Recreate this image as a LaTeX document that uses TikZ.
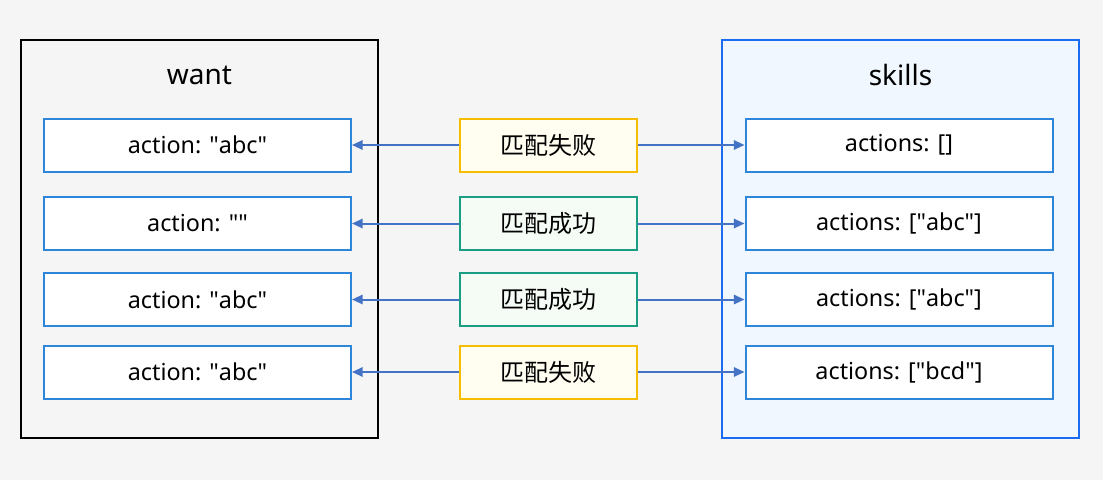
\documentclass[tikz,border=0pt]{standalone}
\usepackage{fontspec}
\setmainfont{Noto Sans}
\newfontfamily\cjk{Noto Sans CJK SC}
\usetikzlibrary{arrows.meta,positioning}
\definecolor{bgcol}{HTML}{F5F5F5}
\definecolor{skillfill}{HTML}{F0F7FE}
\definecolor{skillline}{HTML}{1A6CF0}
\definecolor{itemline}{HTML}{2D86D9}
\definecolor{failline}{HTML}{F5BC00}
\definecolor{failfill}{HTML}{FFFEF0}
\definecolor{okline}{HTML}{1A9E83}
\definecolor{okfill}{HTML}{F5FCF6}
\definecolor{arrowcol}{HTML}{4472C4}
\begin{document}
\begin{tikzpicture}[x=0.75pt,y=-0.75pt,
  outerbox/.style={draw,line width=1.5pt,minimum width=357*0.75pt,minimum height=398*0.75pt},
  itembox/.style={draw=itemline,fill=white,line width=1.5pt,minimum width=307*0.75pt,minimum height=53*0.75pt,font=\fontsize{17.5}{21}\selectfont},
  failbox/.style={draw=failline,fill=failfill,line width=1.5pt,minimum width=177*0.75pt,minimum height=53*0.75pt,font=\cjk\fontsize{18}{22}\selectfont},
  okbox/.style={failbox,draw=okline,fill=okfill},
  link/.style={draw=arrowcol,line width=1.5pt,-{Triangle[length=8pt,width=7pt]}}]
% background
\fill[bgcol] (0,0) rectangle (1103,480);
\useasboundingbox (0,0) rectangle (1103,480);
% want / skills
\node[outerbox,draw=black,fill=bgcol] (want) at (199.5,239) {};
\node[outerbox,draw=skillline,fill=skillfill] (skills) at (900.5,239) {};
\node[font=\fontsize{21}{25}\selectfont] (wanttitle) at (199.5,75) {want};
\node[font=\fontsize{21}{25}\selectfont] (skillstitle) at (900.5,75) {skills};
% rows
\node[itembox] (w1) at (197.5,145) {action: \textquotedbl abc\textquotedbl};
\node[itembox] (w2) at (197.5,223.5) {action: \textquotedbl\textquotedbl};
\node[itembox] (w3) at (197.5,299.5) {action: \textquotedbl abc\textquotedbl};
\node[itembox] (w4) at (197.5,372) {action: \textquotedbl abc\textquotedbl};
\node[itembox] (s1) at (899,145) {actions: []};
\node[itembox] (s2) at (899,223.5) {actions: [\textquotedbl abc\textquotedbl]};
\node[itembox] (s3) at (899,299.5) {actions: [\textquotedbl abc\textquotedbl]};
\node[itembox] (s4) at (899,372) {actions: [\textquotedbl bcd\textquotedbl]};
\node[failbox] (m1) at (548.5,145) {匹配失败};
\node[okbox] (m2) at (548.5,223.5) {匹配成功};
\node[okbox] (m3) at (548.5,299.5) {匹配成功};
\node[failbox] (m4) at (548.5,372) {匹配失败};
% connectors
\foreach \i in {1,2,3,4}{
  \draw[link] (m\i.west) -- (w\i.east);
  \draw[link] (m\i.east) -- (s\i.west);
}
\end{tikzpicture}
\end{document}
